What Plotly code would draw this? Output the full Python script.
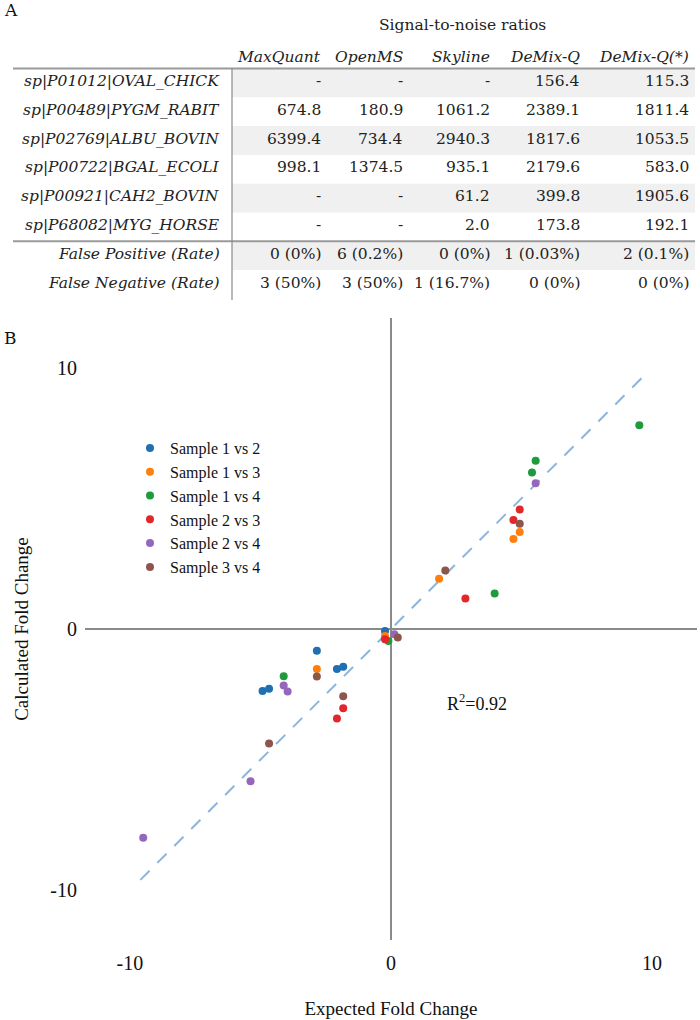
import plotly.graph_objects as go

W, H = 700, 1020

# ---------------- Table (panel A) data ----------------
tools = ["MaxQuant", "OpenMS", "Skyline", "DeMix-Q", "DeMix-Q(*)"]
proteins = ["sp|P01012|OVAL_CHICK", "sp|P00489|PYGM_RABIT", "sp|P02769|ALBU_BOVIN",
            "sp|P00722|BGAL_ECOLI", "sp|P00921|CAH2_BOVIN", "sp|P68082|MYG_HORSE"]
snr_maxquant = [None, 674.8, 6399.4, 998.1, None, None]
snr_openms = [None, 180.9, 734.4, 1374.5, None, None]
snr_skyline = [None, 1061.2, 2940.3, 935.1, 61.2, 2.0]
snr_demixq = [156.4, 2389.1, 1817.6, 2179.6, 399.8, 173.8]
snr_demixq_star = [115.3, 1811.4, 1053.5, 583.0, 1905.6, 192.1]
summary_labels = ["False Positive (Rate)", "False Negative (Rate)"]
false_positive = ["0 (0%)", "6 (0.2%)", "0 (0%)", "1 (0.03%)", "2 (0.1%)"]
false_negative = ["3 (50%)", "3 (50%)", "1 (16.7%)", "0 (0%)", "0 (0%)"]

# ---------------- Scatter (panel B) data ----------------
series_names = ["Sample 1 vs 2", "Sample 1 vs 3", "Sample 1 vs 4",
                "Sample 2 vs 3", "Sample 2 vs 4", "Sample 3 vs 4"]
s12_x = [-0.23, -2.84, -2.07, -1.83, -4.92, -4.67]
s12_y = [-0.08, -0.83, -1.53, -1.44, -2.37, -2.29]
s13_x = [4.93, 4.69, 1.84, -0.23, -2.84]
s13_y = [3.71, 3.44, 1.92, -0.27, -1.53]
s14_x = [9.51, 5.54, 5.40, 3.97, -0.10, -4.11]
s14_y = [7.80, 6.44, 5.99, 1.36, -0.46, -1.81]
s23_x = [4.93, 4.69, 2.85, -0.23, -1.83, -2.07]
s23_y = [4.57, 4.17, 1.17, -0.39, -3.03, -3.42]
s24_x = [5.54, 0.13, -4.11, -3.96, -5.38, -9.49]
s24_y = [5.58, -0.20, -2.16, -2.39, -5.83, -7.99]
s34_x = [4.93, 2.08, 0.26, -2.84, -1.83, -4.67]
s34_y = [4.03, 2.24, -0.33, -1.82, -2.57, -4.38]
fit_x = [-9.6, 9.6]
fit_y = [-9.6, 9.6]
r_squared = 0.92
tick_vals = [-10, 0, 10]
tick_text = ["-10", "0", "10"]

colors = ["#1f6fb2", "#ff7f0e", "#1f9a3c", "#e3262a", "#9467bd", "#8c564b"]

fig = go.Figure()

fig.add_trace(go.Scatter(x=fit_x, y=fit_y, mode="lines", showlegend=False,
                         line=dict(color="#8fb4d8", width=2, dash="13px,11px"),
                         hoverinfo="skip"))

xs = [s12_x, s13_x, s14_x, s23_x, s24_x, s34_x]
ys = [s12_y, s13_y, s14_y, s23_y, s24_y, s34_y]
for name, x, y, c in zip(series_names, xs, ys, colors):
    fig.add_trace(go.Scatter(x=x, y=y, mode="markers", name=name,
                             marker=dict(color=c, size=8)))

def px(x):
    return x / W

def py(y):
    return 1 - y / H

serif_plot = "Liberation Serif, Times New Roman, serif"
serif_table = "Georgia, DejaVu Serif, Liberation Serif, serif"

fig.update_layout(
    width=W, height=H,
    margin=dict(l=0, r=0, t=0, b=0),
    paper_bgcolor="white", plot_bgcolor="white",
    font=dict(family=serif_plot, color="#111", size=16),
    xaxis=dict(domain=[px(85), px(697)], range=[-11.72, 11.72],
               tickvals=tick_vals, ticktext=tick_text, showgrid=False, showline=False,
               zeroline=True, zerolinecolor="#8a8a8a", zerolinewidth=1.5,
               ticks="", ticklabelstandoff=9, tickfont=dict(size=20),
               title=dict(text="Expected Fold Change", font=dict(size=19), standoff=28)),
    yaxis=dict(domain=[py(940), py(318)], range=[-11.9, 11.9],
               tickvals=tick_vals, ticktext=tick_text, showgrid=False, showline=False,
               zeroline=True, zerolinecolor="#8a8a8a", zerolinewidth=1.5,
               ticks="", ticklabelstandoff=7, tickfont=dict(size=20),
               title=dict(text="Calculated Fold Change", font=dict(size=19), standoff=16)),
    legend=dict(x=px(130), y=py(431), xanchor="left", yanchor="top",
                font=dict(size=16, family=serif_plot), bgcolor="rgba(0,0,0,0)"),
)

annotations = []
shapes = []

# R^2 annotation
annotations.append(dict(x=3.3, y=-2.8, xref="x", yref="y", showarrow=False,
                        text="R<sup>2</sup>=%.2f" % r_squared,
                        font=dict(size=18, family=serif_plot)))

# Panel letters
annotations.append(dict(x=px(2), y=py(10), xref="paper", yref="paper", showarrow=False,
                        xanchor="left", yanchor="middle", text="A",
                        font=dict(size=17, family=serif_table)))
annotations.append(dict(x=px(2), y=py(338), xref="paper", yref="paper", showarrow=False,
                        xanchor="left", yanchor="middle", text="B",
                        font=dict(size=17, family=serif_table)))

# Table layout
col_right = [323, 405, 492, 582, 691]
label_right = 222
sep_x = 232
row_top0 = 68.5
row_h = 28.8
text_off = 12.5
tfont = dict(size=15.5, family=serif_table, color="#222")

annotations.append(dict(x=px(462), y=py(25), xref="paper", yref="paper", showarrow=False,
                        yanchor="middle", text="Signal-to-noise ratios", font=tfont))
for t, cx in zip(tools, col_right):
    annotations.append(dict(x=px(cx), y=py(57), xref="paper", yref="paper", showarrow=False,
                            xanchor="right", yanchor="middle",
                            text="<i>%s</i>" % t, font=tfont))

columns = [snr_maxquant, snr_openms, snr_skyline, snr_demixq, snr_demixq_star]
row_labels = proteins + summary_labels
n_rows = len(row_labels)

for i in range(n_rows):
    top = row_top0 + i * row_h
    if i % 2 == 0:
        shapes.append(dict(type="rect", xref="paper", yref="paper",
                           x0=px(sep_x), x1=px(695), y0=py(top), y1=py(top + row_h),
                           fillcolor="#f0f0f0", line=dict(width=0), layer="below"))
    yc = py(top + text_off)
    annotations.append(dict(x=px(label_right), y=yc, xref="paper", yref="paper",
                            showarrow=False, xanchor="right", yanchor="middle",
                            text="<i>%s</i>" % row_labels[i], font=tfont))
    for j, cx in enumerate(col_right):
        if i < len(proteins):
            v = columns[j][i]
            txt = "-" if v is None else "%.1f" % v
        elif i == len(proteins):
            txt = false_positive[j]
        else:
            txt = false_negative[j]
        annotations.append(dict(x=px(cx), y=yc, xref="paper", yref="paper",
                                showarrow=False, xanchor="right", yanchor="middle",
                                text=txt, font=tfont))

# table rules
for yline in [row_top0, row_top0 + len(proteins) * row_h]:
    shapes.append(dict(type="line", xref="paper", yref="paper",
                       x0=px(13), x1=px(695), y0=py(yline), y1=py(yline),
                       line=dict(color="#9a9a9a", width=2)))
shapes.append(dict(type="line", xref="paper", yref="paper",
                   x0=px(sep_x), x1=px(sep_x), y0=py(row_top0), y1=py(row_top0 + n_rows * row_h + 1),
                   line=dict(color="#8a8a8a", width=1.2)))

fig.update_layout(annotations=annotations, shapes=shapes)

fig.write_html("out.html", config={"displayModeBar": False},
               post_script="document.body.style.margin='0';document.body.style.overflow='hidden';")
